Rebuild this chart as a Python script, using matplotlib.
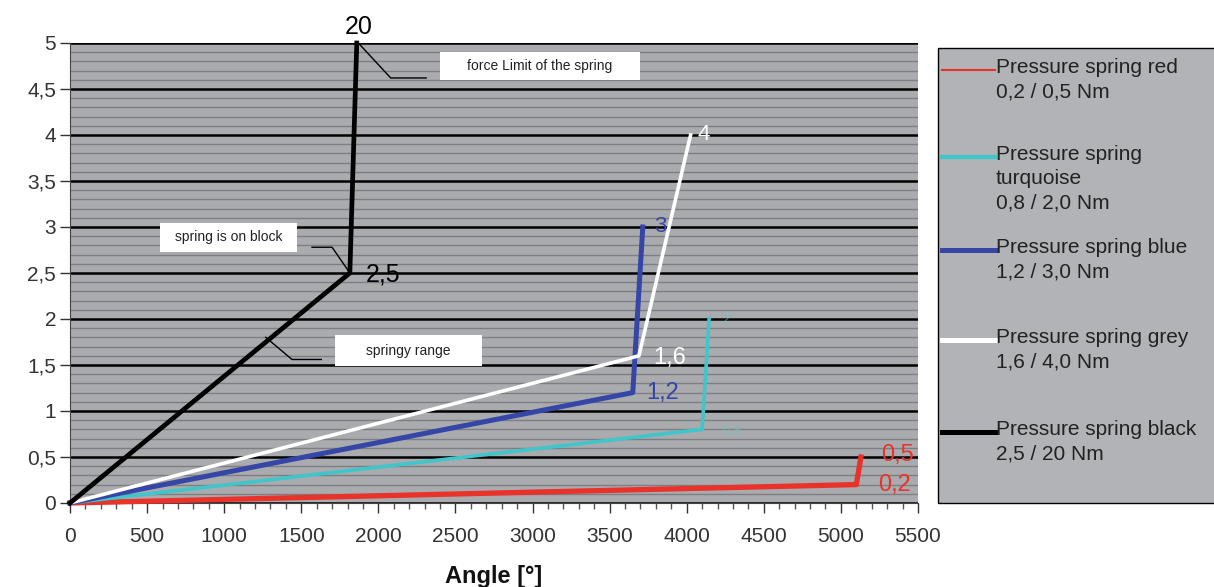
import matplotlib.pyplot as plt
from matplotlib.lines import Line2D
from matplotlib.patches import Rectangle

plt.rcParams['font.family'] = ['Liberation Sans', 'DejaVu Sans']

# angle [deg] / torque [Nm] break points of each spring
red_x = [0, 5100, 5130]
red_y = [0, 0.2, 0.5]
turq_x = [0, 4100, 4145]
turq_y = [0, 0.8, 2.0]
blue_x = [0, 3650, 3715]
blue_y = [0, 1.2, 3.0]
white_x = [0, 3690, 4025]
white_y = [0, 1.6, 4.0]
black_x = [0, 1815, 1860]
black_y = [0, 2.5, 5.0]

x_ticks = [0, 500, 1000, 1500, 2000, 2500, 3000, 3500, 4000, 4500, 5000, 5500]
y_ticks = [0, 0.5, 1, 1.5, 2, 2.5, 3, 3.5, 4, 4.5, 5]
y_labels = ['0', '0,5', '1', '1,5', '2', '2,5', '3', '3,5', '4', '4,5', '5']

legend_names = ['Pressure spring red\n0,2 / 0,5 Nm',
                'Pressure spring\nturquoise\n0,8 / 2,0 Nm',
                'Pressure spring blue\n1,2 / 3,0 Nm',
                'Pressure spring grey\n1,6 / 4,0 Nm',
                'Pressure spring black\n2,5 / 20 Nm']

W, H = 1214, 587
fig = plt.figure(figsize=(12.14, 5.87), dpi=100)
ax = fig.add_axes([70/W, 1-503/H, 848/W, 460/H])
ax.set_facecolor('#a9abae')

ax.set_xlim(0, 5500)
ax.set_ylim(0, 5)
ax.set_xticks(x_ticks)
ax.set_xticks(range(0, 5501, 100), minor=True)
ax.set_yticks(y_ticks)
ax.set_yticks([i / 10 for i in range(51)], minor=True)
ax.set_yticklabels(y_labels)
ax.tick_params(axis='both', labelsize=15, colors='#333333', direction='out', length=7, width=1)
ax.tick_params(axis='x', pad=10)
ax.tick_params(axis='y', pad=3)
ax.tick_params(axis='x', which='minor', length=4, width=1, color='#555555')
ax.tick_params(axis='y', which='minor', length=0)
ax.grid(axis='y', which='minor', color='#7c7e82', linewidth=1.0)
ax.grid(axis='y', which='major', color='black', linewidth=1.8)
ax.set_axisbelow(True)
for s in ['top', 'right']:
    ax.spines[s].set_visible(False)
ax.spines['left'].set_color('#444444')
ax.spines['bottom'].set_color('#444444')

ax.set_xlabel('Angle [°]', fontsize=17, fontweight='bold', labelpad=14, color='#111111')

ax.plot(red_x, red_y, color='#e8322a', lw=3.8, clip_on=False, zorder=3)
ax.plot(turq_x, turq_y, color='#3fc6cb', lw=2.6, clip_on=False, zorder=3)
ax.plot(blue_x, blue_y, color='#3646a6', lw=3.6, clip_on=False, zorder=3)
ax.plot(white_x, white_y, color='white', lw=2.6, clip_on=False, zorder=3)
ax.plot(black_x, black_y, color='black', lw=3.4, clip_on=False, zorder=4)

# value labels at break points
ax.text(1870, 5.04, '20', fontsize=18, ha='center', va='bottom', color='black')
ax.text(1920, 2.48, '2,5', fontsize=18, ha='left', va='center', color='black')
ax.text(4070, 4.0, '4', fontsize=16, ha='left', va='center', color='white')
ax.text(3790, 3.0, '3', fontsize=16, ha='left', va='center', color='#3646a6')
ax.text(3780, 1.58, '1,6', fontsize=17, ha='left', va='center', color='white')
ax.text(3740, 1.2, '1,2', fontsize=17, ha='left', va='center', color='#3646a6')
ax.text(4230, 2.0, '2', fontsize=10, ha='left', va='center', color='#5fc9cc', alpha=0.6)
ax.text(4230, 0.78, '0,8', fontsize=10, ha='left', va='center', color='#5fc9cc', alpha=0.6)
ax.text(5260, 0.52, '0,5', fontsize=17, ha='left', va='center', color='#e8322a')
ax.text(5240, 0.2, '0,2', fontsize=17, ha='left', va='center', color='#e8322a')

# callout boxes (pixel boxes of the reference layout)
def callout(x0, y0, x1, y1, text):
    fig.add_artist(Rectangle((x0/W, 1-y1/H), (x1-x0)/W, (y1-y0)/H,
                             transform=fig.transFigure, fc='white', ec='none', zorder=5))
    fig.text((x0+x1)/2/W, 1-(y0+y1)/2/H, text, fontsize=10, ha='center', va='center',
             color='#222222', zorder=6)

callout(440, 52, 640, 80, 'force Limit of the spring')
callout(160, 223, 297, 252, 'spring is on block')
callout(335, 335, 482, 366, 'springy range')
ax.plot([1870, 2080, 2310], [5.0, 4.62, 4.62], color='black', lw=1)
ax.plot([1570, 1700, 1815], [2.78, 2.78, 2.5], color='black', lw=1)
ax.plot([1270, 1440, 1630], [1.8, 1.56, 1.56], color='black', lw=1)

# legend panel
fig.add_artist(Rectangle((938/W, 1-503/H), 290/W, 455/H,
                         transform=fig.transFigure, fc='#b1b3b6', ec='black', lw=1))
series_colors = ['#e8322a', '#3fc6cb', '#3646a6', 'white', 'black']
series_widths = [1.5, 3.0, 3.6, 3.6, 3.6]
legend_y = [70, 157, 250, 340, 432]
for name, c, w, yy in zip(legend_names, series_colors, series_widths, legend_y):
    fy = 1 - yy / H
    fig.add_artist(Line2D([942/W, 995/W], [fy, fy], transform=fig.transFigure,
                          color=c, lw=w))
    fig.text(996/W, fy + 12/H, name, fontsize=15, color='#222222',
             ha='left', va='top', linespacing=1.35)

fig.savefig('out.png', dpi=100)
